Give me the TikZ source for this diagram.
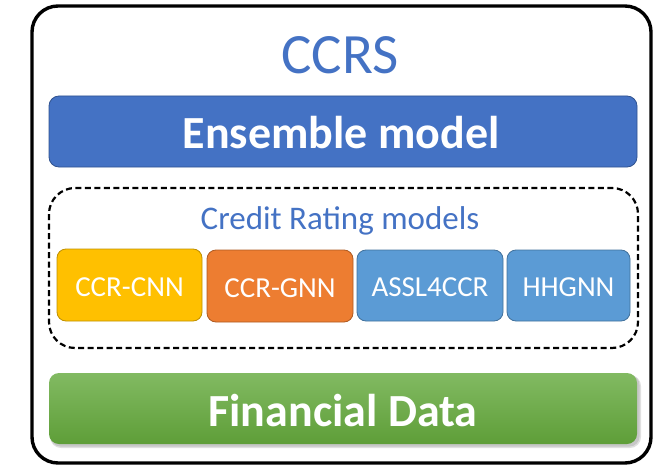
\documentclass[tikz,border=0pt]{standalone}
\usepackage{fontspec}
\setmainfont{Carlito}
\definecolor{tblue}{HTML}{4472C4}
\definecolor{tblueb}{HTML}{2F528F}
\definecolor{tyel}{HTML}{FFC000}
\definecolor{tyelb}{HTML}{BF9000}
\definecolor{tora}{HTML}{ED7D31}
\definecolor{torab}{HTML}{AE5A21}
\definecolor{tlb}{HTML}{5B9BD5}
\definecolor{tlbb}{HTML}{41719C}
\definecolor{tgtop}{HTML}{82BA62}
\definecolor{tgbot}{HTML}{5E9E38}
\begin{document}
\begin{tikzpicture}[x=1pt,y=-1pt,
  modelbox/.style={draw=#1b, fill=#1, line width=0.8pt, rounded corners=9pt},
  modeltxt/.style={text=white, font=\fontsize{29}{29}\selectfont},
  bigtxt/.style={text=white, font=\bfseries\fontsize{46}{46}\selectfont}]
\useasboundingbox (0,0) rectangle (660,473);
% outer
\draw[line width=3.4pt, rounded corners=26pt] (32,6) rectangle (651,463);
\node[text=tblue, font=\fontsize{57}{57}\selectfont] (title) at (340,55) {CCRS};
% ensemble
\draw[draw=tblueb, fill=tblue, line width=0.8pt, rounded corners=10pt] (49,96) rectangle (637,167);
\node[bigtxt] (ens) at (341,133) {Ensemble model};
% dashed group
\draw[line width=2.2pt, dash pattern=on 6pt off 3.5pt, rounded corners=26pt] (49,188) rectangle (638,348);
\node[text=tblue, font=\fontsize{33}{33}\selectfont] (crm) at (340,221) {Credit Rating models};
% models
\draw[modelbox=tyel] (57,249) rectangle (202,321);
\node[modeltxt] (cnn) at (129.5,287) {CCR-CNN};
\draw[modelbox=tora] (207,250) rectangle (353,322);
\node[modeltxt] (gnn) at (280,288) {CCR-GNN};
\draw[modelbox=tlb] (357,250) rectangle (503,321);
\node[modeltxt] (assl) at (430,287) {ASSL4CCR};
\draw[modelbox=tlb] (507,250) rectangle (630,321);
\node[modeltxt] (hhg) at (568.5,287) {HHGNN};
% financial data
\fill[black!12, rounded corners=11pt] (50,375) rectangle (641,448);
\fill[black!22, rounded corners=10pt] (50.5,375) rectangle (639.5,446.5);
\shade[top color=tgtop, bottom color=tgbot, rounded corners=10pt] (49,373) rectangle (637,444);
\node[bigtxt] (fin) at (343,411) {Financial Data};
\end{tikzpicture}
\end{document}
